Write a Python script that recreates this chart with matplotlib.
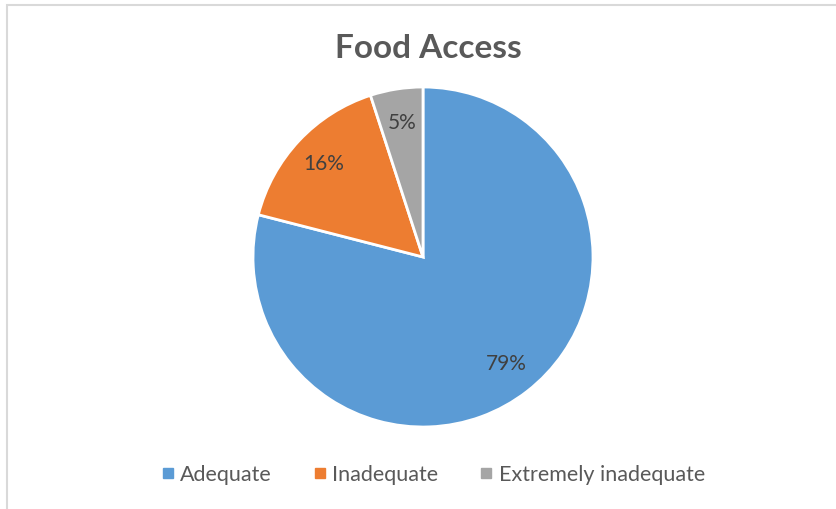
import matplotlib
matplotlib.use("Agg")
import matplotlib.pyplot as plt
from matplotlib.lines import Line2D
from matplotlib.patches import Rectangle

categories = ["Adequate", "Inadequate", "Extremely inadequate"]
values = [79, 16, 5]
colors = ["#5B9BD5", "#ED7D31", "#A5A5A5"]
title = "Food Access"

plt.rcParams['font.family'] = ['Lato', 'DejaVu Sans']

fig = plt.figure(figsize=(8.37, 5.09), dpi=100)
fig.patch.set_facecolor("white")

# chart border
fig.patches.append(Rectangle((7.5/837, -0.05), 1.1, 1 - 4.5/509 + 0.05,
                             transform=fig.transFigure, fill=False,
                             edgecolor="#D9D9D9", linewidth=1.5))

ax = fig.add_axes([(423-170)/837, 1-(257+170)/509, 340/837, 340/509])
wedges, texts = ax.pie(values, colors=colors, startangle=90, counterclock=False,
                       labels=[f"{v}%" for v in values], labeldistance=0.8,
                       radius=1.0,
                       wedgeprops=dict(edgecolor="white", linewidth=2),
                       textprops=dict(color="#404040", fontsize=15))
for t in texts:
    t.set_horizontalalignment("center")
    t.set_verticalalignment("center")
ax.set_xlim(-1.0, 1.0)
ax.set_ylim(-1.0, 1.0)
ax.set_aspect("equal")
ax.axis("off")

fig.text(428/837, 1-48/509, title, ha="center", va="center", fontsize=24,
         fontweight="bold", color="#595959")

handles = [Line2D([0], [0], marker="s", linestyle="none", markersize=7,
                  markerfacecolor=c, markeredgecolor=c) for c in colors]
fig.legend(handles, categories, loc="center", bbox_to_anchor=(432/837, 1-475/509),
           ncol=3, frameon=False, fontsize=15.5, labelcolor="#595959",
           handletextpad=0.2, columnspacing=1.8, handlelength=0.8)

fig.savefig("out.png", dpi=100, facecolor="white")
